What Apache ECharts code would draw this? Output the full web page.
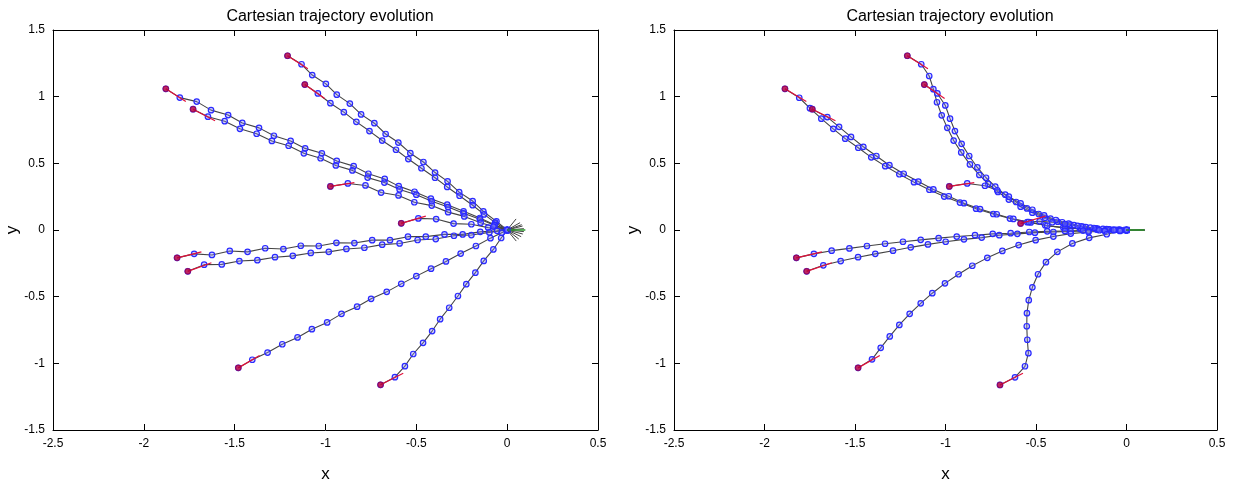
<!DOCTYPE html>
<html><head><meta charset="utf-8">
<script src="https://cdn.jsdelivr.net/npm/echarts@6/dist/echarts.min.js"></script>
<style>html,body{margin:0;padding:0;background:#fff}#c{width:1236px;height:488px}</style>
</head><body><div id="c"></div>
<script>
// ---- data (x, y) ----
const titleText = 'Cartesian trajectory evolution';
const xTicks = [-2.5, -2, -1.5, -1, -0.5, 0, 0.5];
const yTicks = [-1.5, -1, -0.5, 0, 0.5, 1, 1.5];

// left panel trajectories
const L1 = [[-1.209,1.307],[-1.132,1.243],[-1.073,1.162],[-0.998,1.096],[-0.938,1.015],[-0.866,0.948],[-0.804,0.867],[-0.731,0.801],[-0.669,0.72],[-0.599,0.656],[-0.533,0.576],[-0.461,0.51],[-0.397,0.431],[-0.328,0.365],[-0.264,0.284],[-0.19,0.217],[-0.131,0.139],[-0.059,0.065],[0,0]];
const L2 = [[-1.114,1.091],[-1.042,1.024],[-0.973,0.951],[-0.899,0.884],[-0.83,0.811],[-0.758,0.742],[-0.688,0.671],[-0.612,0.602],[-0.544,0.532],[-0.472,0.463],[-0.397,0.392],[-0.33,0.323],[-0.262,0.257],[-0.19,0.186],[-0.127,0.117],[-0.066,0.055],[0,0]];
const L3 = [[-1.879,1.059],[-1.802,0.993],[-1.709,0.963],[-1.63,0.899],[-1.536,0.862],[-1.458,0.803],[-1.366,0.766],[-1.284,0.707],[-1.192,0.668],[-1.112,0.612],[-1.02,0.575],[-0.938,0.518],[-0.845,0.479],[-0.764,0.422],[-0.674,0.383],[-0.597,0.329],[-0.51,0.287],[-0.42,0.235],[-0.33,0.19],[-0.24,0.14],[-0.15,0.09],[-0.07,0.04],[0,0]];
const L4 = [[-1.729,0.906],[-1.647,0.85],[-1.555,0.816],[-1.471,0.759],[-1.379,0.722],[-1.295,0.668],[-1.203,0.632],[-1.119,0.575],[-1.027,0.538],[-0.943,0.484],[-0.852,0.447],[-0.768,0.393],[-0.676,0.356],[-0.592,0.304],[-0.5,0.265],[-0.415,0.215],[-0.325,0.172],[-0.24,0.125],[-0.15,0.08],[-0.07,0.035],[0,0]];
const L5 = [[-0.973,0.327],[-0.877,0.349],[-0.78,0.334],[-0.694,0.281],[-0.598,0.259],[-0.511,0.208],[-0.415,0.183],[-0.325,0.134],[-0.236,0.102],[-0.146,0.055],[-0.076,0.026],[0,0]];
const L6 = [[-0.583,0.05],[-0.489,0.087],[-0.391,0.082],[-0.295,0.048],[-0.197,0.043],[-0.105,0.018],[0,0]];
const L7 = [[-1.817,-0.209],[-1.723,-0.179],[-1.625,-0.187],[-1.527,-0.157],[-1.429,-0.164],[-1.332,-0.137],[-1.232,-0.143],[-1.136,-0.118],[-1.037,-0.12],[-0.94,-0.096],[-0.841,-0.098],[-0.743,-0.076],[-0.645,-0.076],[-0.546,-0.05],[-0.448,-0.05],[-0.345,-0.033],[-0.245,-0.033],[-0.148,-0.014],[-0.055,-0.006],[0,0]];
const L8 = [[-1.758,-0.31],[-1.668,-0.26],[-1.571,-0.258],[-1.474,-0.233],[-1.375,-0.226],[-1.278,-0.204],[-1.18,-0.194],[-1.081,-0.172],[-0.982,-0.164],[-0.885,-0.142],[-0.786,-0.133],[-0.688,-0.11],[-0.592,-0.101],[-0.493,-0.075],[-0.393,-0.068],[-0.293,-0.043],[-0.197,-0.038],[-0.098,-0.018],[0,0]];
const L9 = [[-1.48,-1.034],[-1.403,-0.973],[-1.319,-0.919],[-1.238,-0.857],[-1.154,-0.806],[-1.075,-0.744],[-0.991,-0.693],[-0.912,-0.629],[-0.826,-0.575],[-0.749,-0.516],[-0.663,-0.464],[-0.583,-0.404],[-0.5,-0.346],[-0.419,-0.29],[-0.337,-0.236],[-0.256,-0.177],[-0.172,-0.12],[-0.092,-0.061],[-0.03,-0.02],[0,0]];
const L10 = [[-0.697,-1.161],[-0.618,-1.104],[-0.563,-1.021],[-0.517,-0.93],[-0.463,-0.846],[-0.413,-0.758],[-0.369,-0.669],[-0.319,-0.583],[-0.271,-0.495],[-0.225,-0.406],[-0.175,-0.32],[-0.129,-0.232],[-0.076,-0.146],[-0.033,-0.06],[0,0]];

// right panel trajectories
const R1 = [[-1.211,1.307],[-1.134,1.243],[-1.09,1.155],[-1.067,1.056],[-1.047,0.958],[-1.021,0.86],[-0.99,0.766],[-0.955,0.671],[-0.913,0.582],[-0.865,0.492],[-0.813,0.413],[-0.764,0.345],[-0.71,0.285],[-0.65,0.228],[-0.585,0.175],[-0.52,0.13],[-0.45,0.092],[-0.38,0.062],[-0.31,0.04],[-0.24,0.024],[-0.17,0.012],[-0.1,0.005],[-0.04,0.001],[0,0]];
const R2 = [[-1.117,1.091],[-1.045,1.024],[-1.001,0.934],[-0.975,0.835],[-0.948,0.742],[-0.911,0.646],[-0.869,0.555],[-0.824,0.469],[-0.776,0.392],[-0.725,0.325],[-0.67,0.265],[-0.61,0.21],[-0.55,0.162],[-0.485,0.12],[-0.42,0.085],[-0.355,0.058],[-0.29,0.037],[-0.225,0.022],[-0.16,0.011],[-0.095,0.004],[-0.035,0.001],[0,0]];
const R3 = [[-1.887,1.059],[-1.808,0.992],[-1.749,0.914],[-1.686,0.835],[-1.62,0.759],[-1.554,0.685],[-1.482,0.617],[-1.41,0.545],[-1.333,0.479],[-1.255,0.418],[-1.174,0.359],[-1.089,0.302],[-1.007,0.251],[-0.92,0.206],[-0.831,0.16],[-0.736,0.12],[-0.644,0.086],[-0.548,0.059],[-0.449,0.035],[-0.349,0.018],[-0.257,0.009],[-0.165,0.004],[-0.075,0.001],[0,0]];
const R4 = [[-1.736,0.906],[-1.653,0.847],[-1.588,0.774],[-1.522,0.698],[-1.454,0.624],[-1.382,0.555],[-1.31,0.486],[-1.231,0.422],[-1.15,0.363],[-1.067,0.304],[-0.982,0.253],[-0.898,0.201],[-0.809,0.157],[-0.717,0.118],[-0.625,0.083],[-0.529,0.057],[-0.438,0.032],[-0.34,0.016],[-0.25,0.008],[-0.16,0.003],[-0.07,0.001],[0,0]];
const R5 = [[-0.979,0.327],[-0.88,0.349],[-0.782,0.332],[-0.714,0.298],[-0.65,0.25],[-0.585,0.2],[-0.52,0.152],[-0.455,0.11],[-0.39,0.075],[-0.32,0.048],[-0.25,0.028],[-0.18,0.015],[-0.11,0.006],[-0.045,0.001],[0,0]];
const R6 = [[-0.585,0.049],[-0.54,0.06],[-0.48,0.065],[-0.41,0.058],[-0.34,0.045],[-0.27,0.031],[-0.2,0.018],[-0.13,0.008],[-0.06,0.002],[0,0]];
const R7 = [[-1.824,-0.209],[-1.727,-0.179],[-1.629,-0.155],[-1.531,-0.138],[-1.434,-0.12],[-1.334,-0.103],[-1.235,-0.088],[-1.137,-0.074],[-1.038,-0.061],[-0.938,-0.049],[-0.837,-0.039],[-0.739,-0.029],[-0.64,-0.024],[-0.537,-0.015],[-0.438,-0.01],[-0.34,-0.007],[-0.24,-0.004],[-0.15,-0.002],[-0.07,-0.001],[0,0]];
const R8 = [[-1.767,-0.31],[-1.675,-0.265],[-1.579,-0.233],[-1.483,-0.204],[-1.388,-0.179],[-1.29,-0.155],[-1.192,-0.13],[-1.097,-0.108],[-0.999,-0.088],[-0.898,-0.07],[-0.8,-0.057],[-0.703,-0.039],[-0.603,-0.029],[-0.506,-0.02],[-0.404,-0.015],[-0.308,-0.01],[-0.21,-0.006],[-0.12,-0.003],[-0.04,-0.001],[0,0]];
const R9 = [[-1.483,-1.034],[-1.406,-0.97],[-1.358,-0.884],[-1.308,-0.798],[-1.255,-0.712],[-1.198,-0.629],[-1.137,-0.55],[-1.073,-0.474],[-1.003,-0.4],[-0.928,-0.332],[-0.852,-0.268],[-0.769,-0.209],[-0.686,-0.157],[-0.596,-0.113],[-0.502,-0.076],[-0.404,-0.049],[-0.308,-0.027],[-0.21,-0.015],[-0.12,-0.008],[-0.03,-0.002],[0,0]];
const R10 = [[-0.699,-1.162],[-0.616,-1.105],[-0.561,-1.022],[-0.542,-0.924],[-0.548,-0.823],[-0.551,-0.722],[-0.55,-0.624],[-0.54,-0.526],[-0.52,-0.43],[-0.489,-0.332],[-0.445,-0.241],[-0.382,-0.164],[-0.299,-0.101],[-0.206,-0.059],[-0.109,-0.032],[-0.036,-0.007],[0,0]];

// initial heading segment end points (same for both panels, start = first trajectory point)
const headEnd = [[-1.097,1.209],[-1.005,0.987],[-1.769,0.963],[-1.608,0.82],[-0.841,0.356],[-0.448,0.104],[-1.683,-0.164],[-1.628,-0.246],[-1.363,-0.941],[-0.572,-1.075]];
// final heading segment end points (from origin)
const leftFinalEnd = [[0.049,0.083],[0.071,0.055],[0.085,0.03],[0.092,0.01],[0.092,-0.012],[0.086,-0.03],[0.077,-0.05],[0.064,-0.068],[0.05,-0.083],[0.08,0.04]];
const rightFinalEnd = [[0.1,0.004],[0.1,0.002],[0.1,0],[0.1,-0.002],[0.1,-0.004]];
const goalEnd = [0.1, 0];

const leftTraj = [L1,L2,L3,L4,L5,L6,L7,L8,L9,L10];
const rightTraj = [R1,R2,R3,R4,R5,R6,R7,R8,R9,R10];

// ---- chart ----
const FONT = 'Liberation Sans, Arial, sans-serif';
const grids = [
  {left: 53, top: 30, width: 545, height: 407},
  {left: 674, top: 30, width: 543, height: 407}
];
function xAx(g, pos, main) {
  return {type:'value', gridIndex:g, position:pos, min:-2.5, max:0.5, interval:0.5,
    name: main ? 'x' : '', nameLocation:'middle', nameGap:36,
    nameTextStyle:{fontSize:17, fontFamily:FONT, color:'#000'},
    axisLine:{show:true, onZero:false, lineStyle:{color:'#000', width:1}},
    axisTick:{show:true, inside:true, length:6, lineStyle:{color:'#000'}},
    axisLabel:{show:main, fontSize:12, fontFamily:FONT, color:'#000', margin:8},
    splitLine:{show:false}};
}
function yAx(g, pos, main) {
  return {type:'value', gridIndex:g, position:pos, min:-1.5, max:1.5, interval:0.5,
    name: main ? 'y' : '', nameLocation:'middle', nameGap:27,
    nameTextStyle:{fontSize:17, fontFamily:FONT, color:'#000'},
    axisLine:{show:true, onZero:false, lineStyle:{color:'#000', width:1}},
    axisTick:{show:true, inside:true, length:6, lineStyle:{color:'#000'}},
    axisLabel:{show:main, fontSize:12, fontFamily:FONT, color:'#000', margin:8},
    splitLine:{show:false}};
}
const xAxis = [xAx(0,'bottom',true), xAx(1,'bottom',true), xAx(0,'top',false), xAx(1,'top',false)];
const yAxis = [yAx(0,'left',true), yAx(1,'left',true), yAx(0,'right',false), yAx(1,'right',false)];

const series = [];
function panel(g, trajs, finalEnds) {
  trajs.forEach(t => {
    series.push({type:'line', xAxisIndex:g, yAxisIndex:g, data:t, z:2,
      symbol:'circle', symbolSize:5.5, showSymbol:true, showAllSymbol:true,
      lineStyle:{color:'#444', width:1.1},
      itemStyle:{color:'rgba(130,130,255,0.35)', borderColor:'#2a2aff', borderWidth:1.2},
      emphasis:{disabled:true}});
  });
  series.push({type:'lines', coordinateSystem:'cartesian2d', xAxisIndex:g, yAxisIndex:g, z:3,
    data: finalEnds.map(e => ({coords:[[0,0], e]})),
    lineStyle:{color:'#444', width:1, opacity:1}});
  series.push({type:'lines', coordinateSystem:'cartesian2d', xAxisIndex:g, yAxisIndex:g, z:4,
    data:[{coords:[[0,0], goalEnd]}], lineStyle:{color:'#2e9a2e', width:1.5, opacity:1}});
  series.push({type:'scatter', xAxisIndex:g, yAxisIndex:g, z:5, data:[[0,0]],
    symbol:'rect', symbolSize:6, itemStyle:{color:'rgba(60,60,255,0.3)', borderColor:'#2a2aff', borderWidth:1}});
  series.push({type:'lines', coordinateSystem:'cartesian2d', xAxisIndex:g, yAxisIndex:g, z:6,
    data: trajs.map((t,i) => ({coords:[t[0], headEnd[i]]})),
    lineStyle:{color:'#e0103a', width:1.2, opacity:1}});
  series.push({type:'scatter', xAxisIndex:g, yAxisIndex:g, z:7,
    data: trajs.map(t => t[0]), symbol:'circle', symbolSize:6,
    itemStyle:{color:'#b8003c', borderColor:'#a00035', borderWidth:0.5}});
}
panel(0, leftTraj, leftFinalEnd);
panel(1, rightTraj, rightFinalEnd);

const chart = echarts.init(document.getElementById('c'), null, {renderer:'canvas'});
chart.setOption({
  animation:false,
  backgroundColor:'#fff',
  title:[
    {text:titleText, left:325, top:4, textAlign:'center', textStyle:{fontSize:16, fontWeight:'normal', fontFamily:FONT, color:'#000'}},
    {text:titleText, left:945, top:4, textAlign:'center', textStyle:{fontSize:16, fontWeight:'normal', fontFamily:FONT, color:'#000'}}
  ],
  grid: grids,
  xAxis, yAxis, series
});
</script></body></html>
